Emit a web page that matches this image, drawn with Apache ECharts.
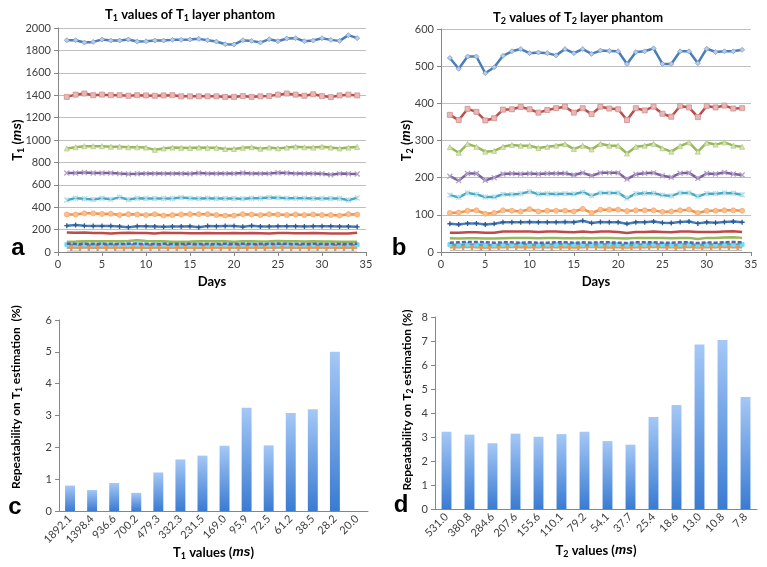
<!DOCTYPE html>
<html><head><meta charset="utf-8">
<script src="https://cdn.jsdelivr.net/npm/echarts@6/dist/echarts.min.js"></script>
<style>html,body{margin:0;padding:0;background:#fff}#c{width:767px;height:567px}</style>
</head><body><div id="c"></div>
<script>
// ---------- DATA ----------
const days = [1,2,3,4,5,6,7,8,9,10,11,12,13,14,15,16,17,18,19,20,21,22,23,24,25,26,27,28,29,30,31,32,33,34];

// Panel a: T1 layer phantom (ms)
const t1_1892 = [1891,1891,1870,1876,1897,1888,1888,1897,1879,1882,1888,1888,1894,1894,1897,1903,1891,1879,1855,1852,1891,1885,1870,1900,1882,1906,1909,1882,1888,1909,1894,1885,1936,1909];
const t1_1398 = [1385,1405,1415,1400,1405,1400,1400,1395,1400,1398,1395,1398,1400,1390,1390,1390,1390,1390,1385,1385,1392,1385,1390,1392,1405,1415,1405,1395,1408,1392,1383,1398,1405,1398];
const t1_937 = [925,935,945,945,945,940,940,935,935,932,912,925,932,930,928,932,930,930,920,920,930,935,922,932,925,932,940,935,932,940,932,925,932,938];
const t1_700 = [705,705,710,705,705,705,700,697,698,700,700,700,700,700,698,705,700,700,700,700,705,700,700,700,708,705,700,700,700,698,690,700,698,697];
const t1_479 = [465,480,475,468,480,470,488,468,480,478,478,478,478,487,480,478,480,478,478,478,475,480,480,487,485,480,480,480,478,478,478,478,465,482];
const t1_332 = [335,335,345,345,340,342,330,338,335,330,338,325,330,335,338,338,338,330,325,325,338,335,330,338,335,330,335,330,335,330,330,325,338,335];
const t1_232 = [235,240,235,232,232,232,228,222,230,230,228,226,228,228,230,222,232,230,232,232,225,235,228,228,230,230,230,228,230,230,230,228,228,225];
const t1_169 = [175,172,175,170,170,165,170,172,170,170,165,172,170,170,168,168,170,168,168,170,168,170,168,165,170,170,168,168,170,168,165,165,165,172];
const t1_96 = [92,93,95,95,97,95,95,98,105,98,95,95,92,92,93,95,95,95,95,92,97,95,93,95,98,97,97,93,95,93,93,92,92,92];
const t1_73 = [74,72,73,71,73,72,72,74,75,72,71,73,72,72,73,72,71,72,73,72,73,72,72,73,74,73,72,72,73,72,71,72,72,73];
const t1_61 = [66,65,67,65,66,64,66,67,66,65,66,65,64,66,65,66,65,66,65,64,66,65,66,65,67,66,65,65,66,65,64,65,66,65];
const t1_39 = [42,41,43,42,41,42,41,40,42,41,42,41,41,42,40,41,42,41,40,41,42,41,42,41,43,42,41,41,42,40,41,41,42,41];
const t1_28 = [29,28,29,28,27,28,29,28,28,27,28,29,28,28,27,28,28,29,28,27,28,28,29,28,28,27,28,29,28,28,27,28,28,29];
const t1_20 = [20,21,20,19,20,20,21,20,20,19,20,21,20,20,20,19,20,21,20,20,19,20,20,21,20,20,19,20,21,20,20,19,20,20];

// Panel b: T2 layer phantom (ms)
const t2_531 = [522,493,526,526,481,497,528,540,546,535,537,535,529,546,535,546,533,542,541,540,506,538,540,548,506,506,540,540,508,547,538,540,540,544];
const t2_381 = [369,355,385,377,354,360,383,384,390,384,375,382,387,391,375,387,371,391,386,384,355,387,381,391,372,364,393,389,363,393,389,394,386,387];
const t2_285 = [282,267,291,283,270,272,283,288,286,286,280,283,286,290,277,286,276,291,286,286,265,283,286,291,279,270,285,295,270,294,289,295,286,283];
const t2_208 = [204,192,211,211,193,200,210,211,210,211,210,211,211,212,207,213,205,213,213,213,196,209,212,213,205,201,212,213,198,211,210,214,210,207];
const t2_156 = [153,147,159,155,148,148,155,155,157,162,156,157,156,157,156,161,152,159,159,159,145,157,158,158,153,151,159,159,150,157,157,159,158,154];
const t2_110 = [105,106,111,112,103,105,112,111,109,115,109,111,111,111,109,116,105,114,114,114,110,112,112,112,108,109,112,114,105,111,111,112,112,111];
const t2_79 = [76,74,77,77,74,76,80,80,80,81,80,80,80,81,80,84,78,81,80,80,76,80,80,82,79,78,81,82,77,80,79,81,82,80];
const t2_54 = [52,52,53,53,52,52,55,55,55,55,54,55,55,54,53,55,53,55,55,54,51,54,54,55,54,53,55,55,54,54,54,55,56,54];
const t2_38 = [37,36,37,37,36,36,37,38,38,38,37,38,38,37,37,38,37,38,38,37,36,38,38,38,38,37,38,38,35,38,38,39,40,38];
const t2_25 = [25,26,27,27,26,25,26,26,25,26,25,25,26,26,25,26,25,26,26,25,24,26,26,26,25,25,26,26,24,26,25,26,27,26];
const t2_19 = [20,19,20,20,19,19,20,20,21,20,19,20,20,21,20,20,19,20,21,20,19,20,20,21,20,19,20,21,19,20,20,21,20,20];
const t2_13 = [13,13,14,13,12,13,13,14,13,13,13,14,13,13,12,13,14,13,13,13,12,13,13,14,13,13,13,14,12,13,13,14,13,13];
const t2_11 = [11,11,11,10,11,11,11,11,10,11,11,11,11,11,10,11,11,11,11,11,10,11,11,11,11,10,11,11,11,11,10,11,11,11];
const t2_8 = [8,8,8,8,7,8,8,8,8,8,8,7,8,8,8,8,8,8,7,8,8,8,8,8,8,8,7,8,8,8,8,8,8,8];

// Panel c / d: repeatability (%)
const t1Labels = ['1892.1','1398.4','936.6','700.2','479.3','332.3','231.5','169.0','95.9','72.5','61.2','38.5','28.2','20.0'];
const t1Repeat = [0.80,0.66,0.88,0.57,1.21,1.62,1.74,2.05,3.24,2.06,3.08,3.20,5.00,null];
const t2Labels = ['531.0','380.8','284.6','207.6','155.6','110.1','79.2','54.1','37.7','25.4','18.6','13.0','10.8','7.8'];
const t2Repeat = [3.22,3.10,2.74,3.14,3.01,3.12,3.22,2.83,2.68,3.83,4.33,6.85,7.04,4.67];

// ---------- STYLE ----------
const FONT = 'Lato';
const IFONT = 'Liberation Sans';
const TXT = '#404040';
const AX = '#868686';
const X_PATH = 'path://M0,0L10,10M10,0L0,10';
const STAR_PATH = 'path://M0,0L10,10M10,0L0,10M5,0L5,10';
const PLUS_PATH = 'path://M5,0L5,10M0,5L10,5';
const styles = [
  {c:'#4A7EBB', s:'diamond', f:'#B9CDE5', b:'#7F9FCB', z:7},
  {c:'#BE4B48', s:'rect', f:'#E6B9B8', b:'#D08F8D', z:6, sz:5},
  {c:'#98B954', s:'triangle', f:'#D7E4BD', b:'#B3CC87', z:6},
  {c:'#7D60A0', s:X_PATH, f:'none', b:'#B3A2C7', z:6},
  {c:'#46AAC5', s:STAR_PATH, f:'none', b:'#B7DEE8', z:6},
  {c:'#F69240', s:'circle', f:'#FAC090', b:'#F4A870', z:6},
  {c:'#4A7EBB', s:PLUS_PATH, f:'none', b:'#2C5A92', z:6},
  {c:'#BE4B48', s:'none', z:5},
  {c:'#98B954', s:'none', z:5},
  {c:'#5F5FA8', s:'none', z:5, dash:true},
  {c:'#46AAC5', s:'rect', f:'#6EDDF5', b:'#6EDDF5', z:4, sz:4},
  {c:'#F69240', s:'none', z:4},
  {c:'#D99795', s:'none', z:3, w:3.5},
  {c:'#A6A6A6', s:'rect', f:'#FFFFFF', b:'#FFFFFF', z:3, w:3.5, sz:[5,1.5]}
];

const t1Set = [t1_1892,t1_1398,t1_937,t1_700,t1_479,t1_332,t1_232,t1_169,t1_96,t1_73,t1_61,t1_39,t1_28,t1_20];
const t2Set = [t2_531,t2_381,t2_285,t2_208,t2_156,t2_110,t2_79,t2_54,t2_38,t2_25,t2_19,t2_13,t2_11,t2_8];

function lineSeries(set, axisIndex){
  return set.map((vals,i)=>{
    const st = styles[i];
    const isPath = st.s===X_PATH||st.s===STAR_PATH||st.s===PLUS_PATH;
    return {
      type:'line', xAxisIndex:axisIndex, yAxisIndex:axisIndex, z:st.z,
      data: days.map((d,k)=>[d, vals[k]]),
      symbol: st.s, symbolSize: st.sz || 5, showSymbol: st.s!=='none',
      lineStyle:{color:st.c, width: st.w || 2.5, type: st.dash ? [4,2] : 'solid'},
      itemStyle:{color: st.f || st.c, borderColor: st.b || st.c, borderWidth: isPath ? 1.3 : 0.8},
      emphasis:{disabled:true}, animation:false
    };
  });
}

const rich = {
  sub:{fontSize:9, fontWeight:'bold', fontFamily:FONT, color:'#000', verticalAlign:'bottom', lineHeight:10},
  it:{fontSize:12.5, fontStyle:'italic', fontWeight:'bold', fontFamily:IFONT, color:'#000', lineHeight:16},
  n:{fontSize:13, fontWeight:'bold', fontFamily:FONT, color:'#000', lineHeight:16}
};
const richSmall = {
  sub:{fontSize:8.5, fontWeight:'bold', fontFamily:FONT, color:'#000', verticalAlign:'bottom', lineHeight:9},
  n:{fontSize:12, fontWeight:'bold', fontFamily:FONT, color:'#000', lineHeight:15}
};

function valAxisStyle(){
  return {
    axisLine:{show:true, lineStyle:{color:AX, width:1}},
    axisTick:{show:true, length:4, lineStyle:{color:AX}},
    axisLabel:{color:TXT, fontSize:11, fontFamily:FONT, margin:7, formatter:(v)=>String(v)},
    nameMoveOverlap:false
  };
}

const barGrad = new echarts.graphic.LinearGradient(0,0,0,1,[{offset:0,color:'#A5C8F6'},{offset:1,color:'#3A7BD2'}]);

const option = {
  backgroundColor:'#fff',
  animation:false,
  grid:[
    {left:58, top:28, width:308, height:224},
    {left:441, top:29, width:310, height:223},
    {left:59, top:320, width:309, height:191},
    {left:435, top:317, width:322, height:192}
  ],
  xAxis:[
    Object.assign(valAxisStyle(), {gridIndex:0, type:'value', min:0, max:35, interval:5, splitLine:{show:false},
      name:'{n|Days}', nameLocation:'middle', nameGap:22, nameTextStyle:{rich:rich}}),
    Object.assign(valAxisStyle(), {gridIndex:1, type:'value', min:0, max:35, interval:5, splitLine:{show:false},
      name:'{n|Days}', nameLocation:'middle', nameGap:22, nameTextStyle:{rich:rich}}),
    {gridIndex:2, type:'category', data:t1Labels, boundaryGap:true, nameMoveOverlap:false,
      axisLine:{lineStyle:{color:AX}}, axisTick:{length:4, lineStyle:{color:AX}},
      axisLabel:{rotate:45, interval:0, color:TXT, fontSize:11, fontFamily:FONT, margin:6},
      name:'{n|T}{sub|1}{n| values (}{it|ms}{n|)}', nameLocation:'middle', nameGap:34, nameTextStyle:{rich:rich}},
    {gridIndex:3, type:'category', data:t2Labels, boundaryGap:true, nameMoveOverlap:false,
      axisLine:{lineStyle:{color:AX}}, axisTick:{length:4, lineStyle:{color:AX}},
      axisLabel:{rotate:45, interval:0, color:TXT, fontSize:11, fontFamily:FONT, margin:6},
      name:'{n|T}{sub|2}{n| values (}{it|ms}{n|)}', nameLocation:'middle', nameGap:34, nameTextStyle:{rich:rich}}
  ],
  yAxis:[
    Object.assign(valAxisStyle(), {gridIndex:0, type:'value', min:0, max:2000, interval:200,
      splitLine:{show:true, lineStyle:{color:'#BFBFBF', width:1}},
      name:'{n|T}{sub|1}{n| (}{it|ms}{n|)}', nameLocation:'middle', nameGap:32, nameRotate:90, nameTextStyle:{rich:rich}}),
    Object.assign(valAxisStyle(), {gridIndex:1, type:'value', min:0, max:600, interval:100,
      splitLine:{show:true, lineStyle:{color:'#BFBFBF', width:1}},
      name:'{n|T}{sub|2}{n| (}{it|ms}{n|)}', nameLocation:'middle', nameGap:26, nameRotate:90, nameTextStyle:{rich:rich}}),
    Object.assign(valAxisStyle(), {gridIndex:2, type:'value', min:0, max:6, interval:1, splitLine:{show:false}}),
    Object.assign(valAxisStyle(), {gridIndex:3, type:'value', min:0, max:8, interval:1, splitLine:{show:false}})
  ],
  graphic:[
    {type:'text', x:190, y:15, style:{text:'{n|T}{sub|1}{n| values of T}{sub|1}{n| layer phantom}', rich:rich, textAlign:'center', textVerticalAlign:'middle'}},
    {type:'text', x:578, y:18, style:{text:'{n|T}{sub|2}{n| values of T}{sub|2}{n| layer phantom}', rich:rich, textAlign:'center', textVerticalAlign:'middle'}},
    {type:'text', x:16, y:397, rotation:Math.PI/2, style:{text:'{n|Repeatability on T}{sub|1}{n| estimation  (%)}', rich:richSmall, textAlign:'center', textVerticalAlign:'middle'}},
    {type:'text', x:407, y:400, rotation:Math.PI/2, style:{text:'{n|Repeatability on T}{sub|2}{n| estimation (%)}', rich:richSmall, textAlign:'center', textVerticalAlign:'middle'}},
    {type:'text', x:18, y:248, style:{text:'a', font:'bold 24px "Liberation Sans"', fill:'#000', textAlign:'center', textVerticalAlign:'middle'}},
    {type:'text', x:399, y:248, style:{text:'b', font:'bold 24px "Liberation Sans"', fill:'#000', textAlign:'center', textVerticalAlign:'middle'}},
    {type:'text', x:15, y:507, style:{text:'c', font:'bold 24px "Liberation Sans"', fill:'#000', textAlign:'center', textVerticalAlign:'middle'}},
    {type:'text', x:401, y:505, style:{text:'d', font:'bold 24px "Liberation Sans"', fill:'#000', textAlign:'center', textVerticalAlign:'middle'}}
  ],
  series: [].concat(
    lineSeries(t1Set, 0),
    lineSeries(t2Set, 1),
    [{type:'bar', xAxisIndex:2, yAxisIndex:2, data:t1Repeat, barWidth:'45%', itemStyle:{color:barGrad}, emphasis:{disabled:true}},
     {type:'bar', xAxisIndex:3, yAxisIndex:3, data:t2Repeat, barWidth:'43%', itemStyle:{color:barGrad}, emphasis:{disabled:true}}]
  )
};

const chart = echarts.init(document.getElementById('c'), null, {renderer:'canvas'});
chart.setOption(option);
</script>
</body></html>
